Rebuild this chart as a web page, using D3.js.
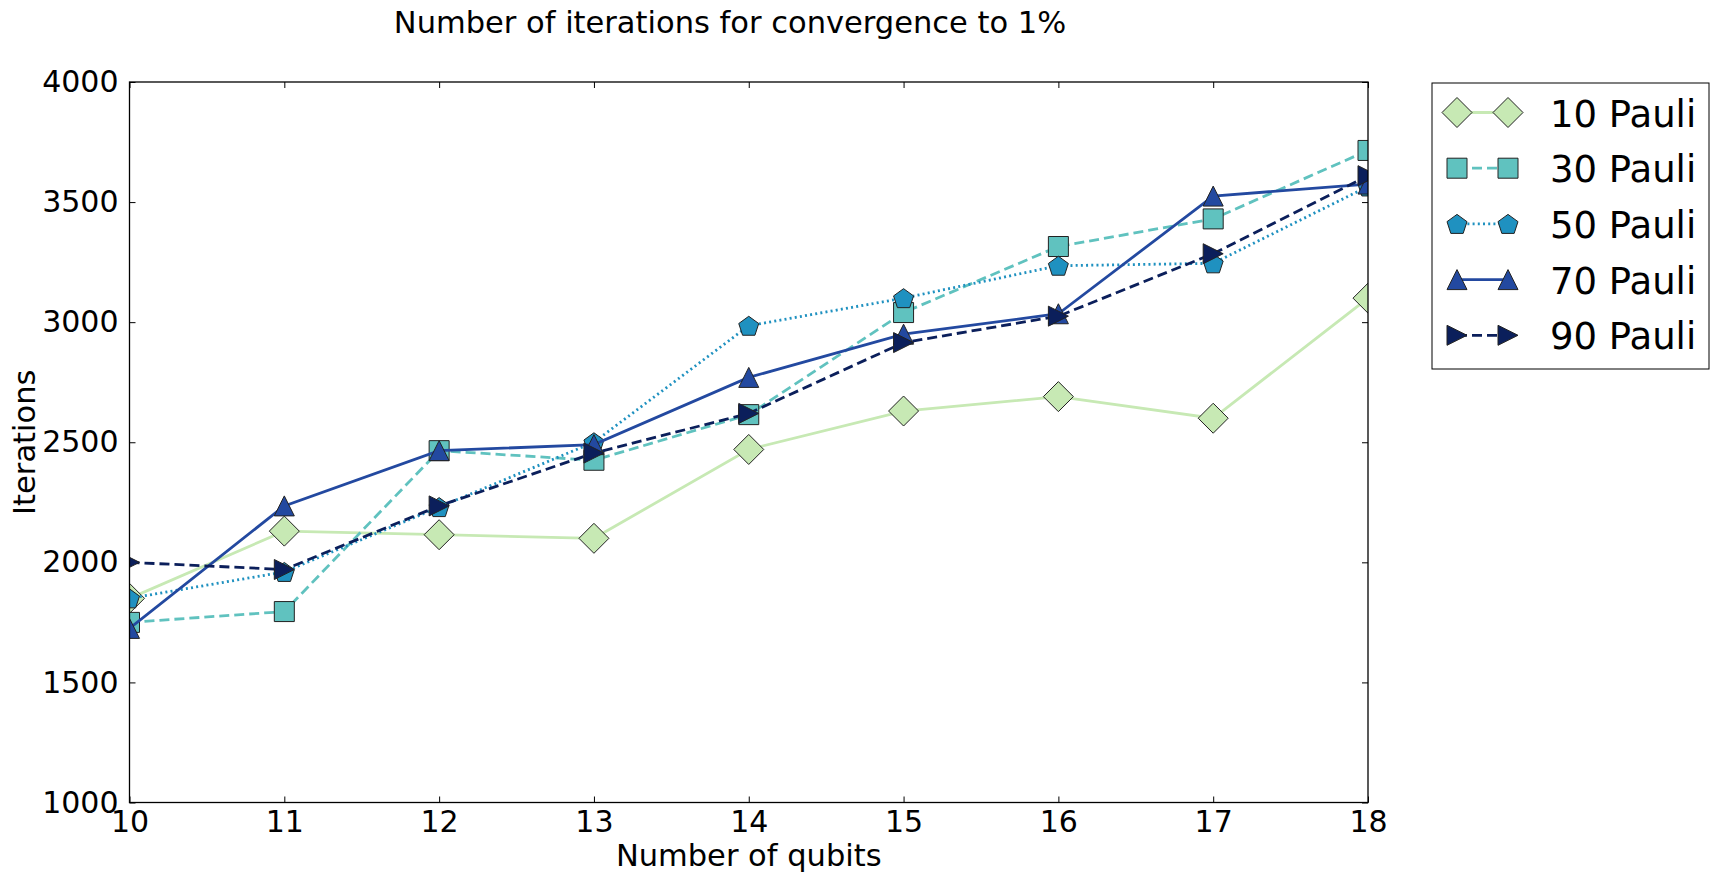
<!DOCTYPE html>
<html>
<head>
<meta charset="utf-8">
<script src="https://cdn.jsdelivr.net/npm/d3@7"></script>
<style>
  body { margin: 0; background: #fff; }
  text { font-family: "DejaVu Sans", sans-serif; fill: #000; }
</style>
</head>
<body>
<script>
// values
var qubits = [10, 11, 12, 13, 14, 15, 16, 17, 18];
var pauli10 = [1850, 2130, 2115, 2100, 2470, 2630, 2690, 2600, 3100];
var pauli30 = [1750, 1795, 2465, 2425, 2615, 3040, 3315, 3430, 3715];
var pauli50 = [1850, 1960, 2230, 2500, 2985, 3100, 3235, 3245, 3565];
var pauli70 = [1725, 2235, 2465, 2490, 2770, 2950, 3035, 3525, 3575];
var pauli90 = [2000, 1970, 2235, 2455, 2620, 2915, 3025, 3285, 3610];
var seriesNames = ["10 Pauli", "30 Pauli", "50 Pauli", "70 Pauli", "90 Pauli"];
var yTicks = [1000, 1500, 2000, 2500, 3000, 3500, 4000];

var width = 1719;
var height = 882;
var plotLeft = 129.5, plotRight = 1368, plotTop = 82, plotBottom = 802.5;

// marker shapes, centred on 0,0
function poly(pts) {
    return "M" + pts.map(function(p) { return p[0] + "," + p[1]; }).join("L") + "Z";
}
var shapes = {
    diamond: poly([[0, -15], [15, 0], [0, 15], [-15, 0]]),
    square: poly([[-10, -10], [10, -10], [10, 10], [-10, 10]]),
    pentagon: poly(d3.range(5).map(function(k) {
        var a = k * 2 * Math.PI / 5;
        return [10.5 * Math.sin(a), -10.5 * Math.cos(a) + 1];
    })),
    triUp: poly([[0, -10], [-10, 10], [10, 10]]),
    triRight: poly([[10, 0], [-10, -10], [-10, 10]])
};

var series = [
    {name: seriesNames[0], values: pauli10, color: "#c7e9b4", dash: null, shape: "diamond"},
    {name: seriesNames[1], values: pauli30, color: "#60c2bf", dash: "10,5", shape: "square"},
    {name: seriesNames[2], values: pauli50, color: "#1f91c0", dash: "2,3.2", shape: "pentagon"},
    {name: seriesNames[3], values: pauli70, color: "#2349a0", dash: null, shape: "triUp"},
    {name: seriesNames[4], values: pauli90, color: "#0b1f5b", dash: "10,5", shape: "triRight"}
];

var svg = d3.select("body").append("svg")
    .attr("width", width)
    .attr("height", height);

var x = d3.scaleLinear().domain([10, 18]).range([plotLeft, plotRight]);
var y = d3.scaleLinear().domain([1000, 4000]).range([plotBottom, plotTop]);

svg.append("clipPath").attr("id", "plotclip")
    .append("rect")
    .attr("x", plotLeft).attr("y", plotTop)
    .attr("width", plotRight - plotLeft).attr("height", plotBottom - plotTop);

// Axes with inward ticks on all four sides
var tickStyle = function(g) {
    g.select(".domain").remove();
    g.selectAll(".tick line").attr("stroke", "#000").attr("stroke-width", 1);
    g.selectAll(".tick text").attr("font-size", "30px").attr("fill", "#000")
        .attr("font-family", "DejaVu Sans");
};

svg.append("g")
    .attr("transform", "translate(0," + plotBottom + ")")
    .call(d3.axisBottom(x).tickValues(qubits).tickSizeInner(-6).tickSizeOuter(0).tickFormat(d3.format("d")))
    .call(tickStyle)
    .selectAll(".tick text").attr("y", 29).attr("dy", 0);

svg.append("g")
    .attr("transform", "translate(0," + plotTop + ")")
    .call(d3.axisTop(x).tickValues(qubits).tickSizeInner(-6).tickSizeOuter(0).tickFormat(""))
    .call(tickStyle);

svg.append("g")
    .attr("transform", "translate(" + plotLeft + ",0)")
    .call(d3.axisLeft(y).tickValues(yTicks).tickSizeInner(-6).tickSizeOuter(0).tickFormat(d3.format("d")))
    .call(tickStyle)
    .selectAll(".tick text").attr("x", -11);

svg.append("g")
    .attr("transform", "translate(" + plotRight + ",0)")
    .call(d3.axisRight(y).tickValues(yTicks).tickSizeInner(-6).tickSizeOuter(0).tickFormat(""))
    .call(tickStyle);

// series: line then markers, in plotting order
var line = d3.line()
    .x(function(d, i) { return x(qubits[i]); })
    .y(function(d) { return y(d); });

var plot = svg.append("g").attr("clip-path", "url(#plotclip)");

series.forEach(function(s) {
    plot.append("path")
        .attr("d", line(s.values))
        .attr("fill", "none")
        .attr("stroke", s.color)
        .attr("stroke-width", 2.8)
        .attr("stroke-dasharray", s.dash);

    plot.selectAll(null)
        .data(s.values)
        .enter()
        .append("path")
        .attr("d", shapes[s.shape])
        .attr("transform", function(d, i) {
            return "translate(" + x(qubits[i]) + "," + y(d) + ")";
        })
        .attr("fill", s.color)
        .attr("stroke", "#222")
        .attr("stroke-width", 1);
});

// frame
svg.append("rect")
    .attr("x", plotLeft).attr("y", plotTop)
    .attr("width", plotRight - plotLeft).attr("height", plotBottom - plotTop)
    .attr("fill", "none")
    .attr("stroke", "#000")
    .attr("stroke-width", 1.3);

// titles
svg.append("text")
    .attr("x", 730).attr("y", 33)
    .attr("text-anchor", "middle")
    .attr("font-size", "30.5px")
    .text("Number of iterations for convergence to 1%");

svg.append("text")
    .attr("x", (plotLeft + plotRight) / 2).attr("y", 866)
    .attr("text-anchor", "middle")
    .attr("font-size", "30.5px")
    .text("Number of qubits");

svg.append("text")
    .attr("transform", "translate(35," + ((plotTop + plotBottom) / 2) + ") rotate(-90)")
    .attr("text-anchor", "middle")
    .attr("font-size", "30.5px")
    .text("Iterations");

// legend
var legend = svg.append("g").attr("transform", "translate(1432,83)");
legend.append("rect")
    .attr("width", 277).attr("height", 286)
    .attr("fill", "#fff")
    .attr("stroke", "#000")
    .attr("stroke-width", 1);

var rows = legend.selectAll("g.row")
    .data(series)
    .enter()
    .append("g")
    .attr("class", "row")
    .attr("transform", function(d, i) { return "translate(0," + (29.5 + i * 55.7) + ")"; });

rows.append("line")
    .attr("x1", 25).attr("x2", 76)
    .attr("stroke", function(d) { return d.color; })
    .attr("stroke-width", 2.8)
    .attr("stroke-dasharray", function(d) { return d.dash; });

[25, 76].forEach(function(mx) {
    rows.append("path")
        .attr("d", function(d) { return shapes[d.shape]; })
        .attr("transform", "translate(" + mx + ",0)")
        .attr("fill", function(d) { return d.color; })
        .attr("stroke", "#222")
        .attr("stroke-width", 1);
});

rows.append("text")
    .attr("x", 118).attr("y", 14)
    .attr("font-size", "37px")
    .text(function(d) { return d.name; });
</script>
</body>
</html>
